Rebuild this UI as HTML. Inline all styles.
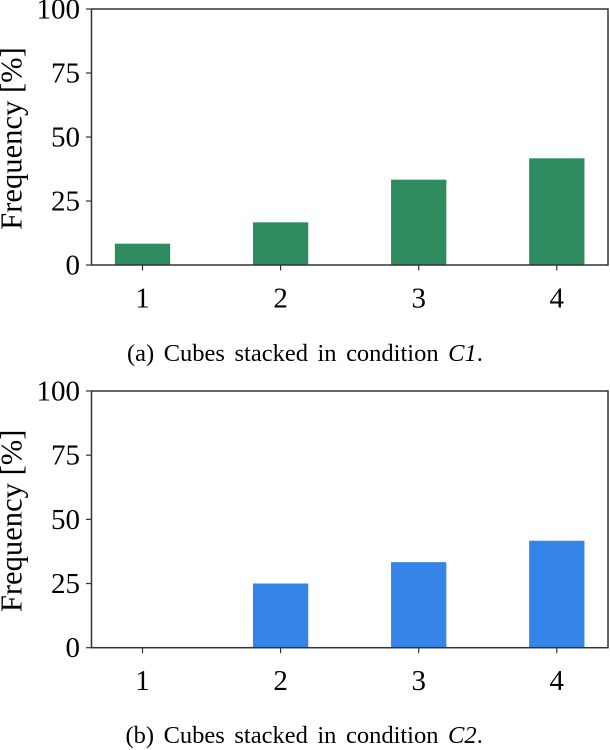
<!DOCTYPE html>
<html>
<head>
<meta charset="utf-8">
<style>
html,body{margin:0;padding:0;background:#fff;width:610px;height:750px;overflow:hidden}
svg{display:block}
text{font-family:"Liberation Serif",serif;fill:#000}
</style>
</head>
<body>
<svg id="chart" xmlns="http://www.w3.org/2000/svg" width="610" height="750" viewBox="0 0 610 750"></svg>
<script>
const categories = [1, 2, 3, 4];
const c1Values = [8.33, 16.67, 33.33, 41.67];
const c2Values = [0, 25, 33.33, 41.67];
const yTickLabels = [0, 25, 50, 75, 100];
const yAxisLabel = 'Frequency [%]';

const NS = 'http://www.w3.org/2000/svg';
const svg = document.getElementById('chart');

function make(parent, tag, attrs, text) {
  const el = document.createElementNS(NS, tag);
  for (const k in attrs) el.setAttribute(k, attrs[k]);
  if (text !== undefined) el.textContent = text;
  parent.appendChild(el);
  return el;
}

function drawPanel(name, values, color, top, bottom) {
  const left = 91.5, right = 608;
  const first = 142.5, step = 138.1, barW = 55.3;
  const xScale = c => first + (c - categories[0]) * step;
  const yScale = v => bottom - (v / 100) * (bottom - top);

  const g = make(svg, 'g', {});
  
  

  values.forEach((v, i) => {
    const x = xScale(categories[i]);
    const bar = make(g, 'rect', {
      x: x - barW / 2, y: yScale(v), width: barW, height: bottom - yScale(v), fill: color
    });
    
    
  });

  const frame = make(g, 'rect', {
    x: left, y: top, width: right - left, height: bottom - top,
    fill: 'none', stroke: '#333', 'stroke-width': 1.5
  });
  
  

  yTickLabels.forEach(t => {
    const y = yScale(t);
    const tick = make(g, 'line', {
      x1: left - 5.5, x2: left, y1: y, y2: y, stroke: '#333', 'stroke-width': 1.2
    });
    
    
    const label = make(g, 'text', {
      x: 80, y: y + 9.5, 'text-anchor': 'end', 'font-size': 29
    }, String(t));
    
    
  });

  categories.forEach(c => {
    const x = xScale(c);
    const tick = make(g, 'line', {
      x1: x, x2: x, y1: bottom, y2: bottom + 5.5, stroke: '#333', 'stroke-width': 1.2
    });
    
    
    const label = make(g, 'text', {
      x: x, y: bottom + 42.5, 'text-anchor': 'middle', 'font-size': 29
    }, String(c));
    
    
  });

  const cy = (top + bottom) / 2 + 1.5;
  const yt = make(g, 'text', {
    x: 0, y: 0, 'text-anchor': 'middle', 'font-size': 30.6,
    transform: 'translate(21.5 ' + cy + ') rotate(-90)'
  }, yAxisLabel);
  
  
}

function drawCaption(name, prefix, cond, baseline, startX) {
  const t = make(svg, 'text', { x: startX, y: baseline, 'font-size': 24.5, 'word-spacing': 3.4 });
  
  
  make(t, 'tspan', {}, prefix);
  make(t, 'tspan', { 'font-style': 'italic' }, cond);
  make(t, 'tspan', {}, '.');
}

drawPanel('c1', c1Values, '#2e8b5f', 9, 265);
drawPanel('c2', c2Values, '#3584e8', 391, 647.7);
drawCaption('caption-c1', '(a) Cubes stacked in condition ', 'C1', 361, 127);
drawCaption('caption-c2', '(b) Cubes stacked in condition ', 'C2', 743, 125.5);
</script>
</body>
</html>
